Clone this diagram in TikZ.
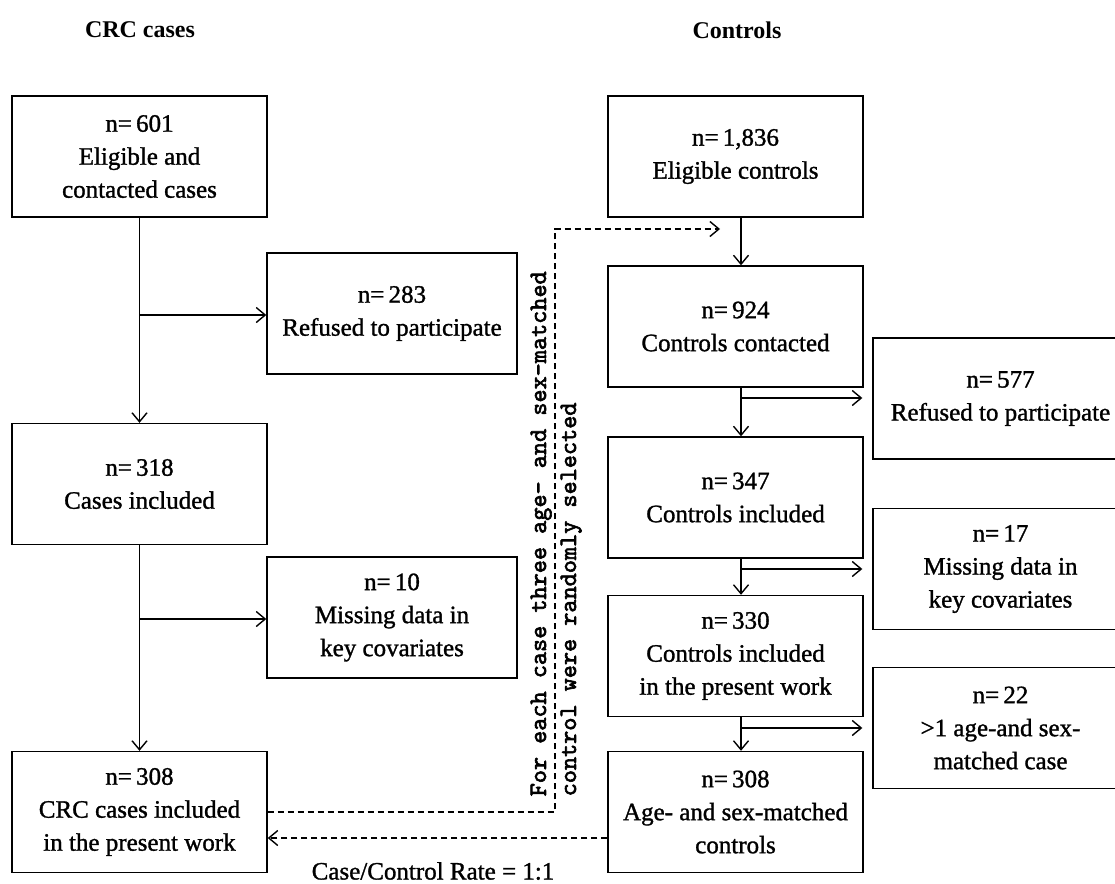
\documentclass[tikz,border=0pt]{standalone}
\usepackage{fontspec}
\setmainfont{Liberation Serif}
\newfontfamily\boxfont{Liberation Serif}[FakeBold=1.2]
\newfontfamily\notefont{lmmono10-regular}[Extension=.otf,FakeBold=2.5]
\usetikzlibrary{arrows.meta,positioning,calc}

\begin{document}
\begin{tikzpicture}[x=1pt,y=-1pt,>={Straight Barb[length=9pt,width=15pt]},line width=1.4pt,
	font=\fontsize{25}{33}\boxfont]
	\tikzset{box/.style = {draw,minimum width=255pt,minimum height=121pt,inner sep=2pt,align=center}}
	\tikzset{title/.style = {font=\fontsize{24}{28}\selectfont\rmfamily\bfseries}}
	\tikzset{dashline/.style = {dash pattern=on 6pt off 4pt}}
	\useasboundingbox (0,0) rectangle (1115,883);
	% titles
	\node[title] (tcase) at (140,30) {CRC cases};
	\node[title] (tcontrol) at (737,30) {Controls};
	% cases
	\node[box] (a601) at (139.5,156.5) {n=\,601\\Eligible and\\contacted cases};
	\node[box,minimum width=250pt] (r283) at (392,313.5) {n=\,283\\Refused to participate};
	\node[box] (c318) at (139.5,484) {n=\,318\\Cases included};
	\node[box,minimum width=250pt] (m10) at (392,617.5) {n=\,10\\Missing data in\\key covariates};
	\node[box] (crc308) at (139.5,812) {n=\,308\\CRC cases included\\in the present work};
	% controls
	\node[box] (e1836) at (735.5,156.5) {n=\,1,836\\Eligible controls};
	\node[box] (c924) at (735.5,326.5) {n=\,924\\Controls contacted};
	\node[box] (c347) at (735.5,497.5) {n=\,347\\Controls included};
	\node[box] (c330) at (735.5,656) {n=\,330\\Controls included\\in the present work};
	\node[box] (m308) at (735.5,812) {n=\,308\\Age- and sex-matched\\controls};
	\node[box] (r577) at (1000.5,398.5) {n=\,577\\Refused to participate};
	\node[box] (m17) at (1000.5,569) {n=\,17\\Missing data in\\key covariates};
	\node[box] (g22) at (1000.5,728) {n=\,22\\>1 age-and sex-\\matched case};
	% note
	\node[rotate=90,anchor=north west,inner sep=0pt,align=left,
		font=\fontsize{25}{30}\notefont] (note) at (530,797)
		{For each case three age- and sex-matched\\control were randomly selected};
	\node (rate) at (433,871) {Case/Control Rate = 1:1};
	% branch points
	\coordinate (b1) at (140,315);
	\coordinate (b2) at (140,619);
	\coordinate (spine) at (741,0);
	\coordinate (b3) at (741,398);
	\coordinate (b4) at (741,569);
	\coordinate (b5) at (741,728);
	\coordinate (dtop) at (555,229);
	\coordinate (dend) at (720,229);
	%edges
	\draw[->] (a601) -- (c318);
	\draw[->] (b1) -- (b1 -| r283.west);
	\draw[->] (c318) -- (crc308);
	\draw[->] (b2) -- (b2 -| m10.west);
	\draw[->] (e1836.south -| spine) -- (c924.north -| spine);
	\draw[->] (c924.south -| spine) -- (c347.north -| spine);
	\draw[->] (c347.south -| spine) -- (c330.north -| spine);
	\draw[->] (c330.south -| spine) -- (m308.north -| spine);
	\draw[->,shorten >=10pt] (b3) -- (b3 -| r577.west);
	\draw[->,shorten >=10pt] (b4) -- (b4 -| m17.west);
	\draw[->,shorten >=10pt] (b5) -- (b5 -| g22.west);
	\draw[dashline,->] (crc308.east) -| (dtop) -- (dend);
	\draw[dashline,->] ([yshift=-26pt]m308.west) -- ([yshift=-26pt]crc308.east);
\end{tikzpicture}
\end{document}
